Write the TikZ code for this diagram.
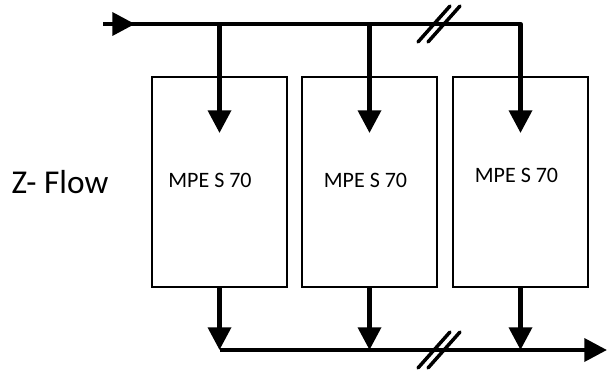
\documentclass[tikz,border=0pt]{standalone}
\usepackage{fontspec}
\setmainfont{Carlito}
\usetikzlibrary{arrows.meta}

\begin{document}
\begin{tikzpicture}[x=0.75pt,y=-0.75pt,
    bus/.style={line width=3.4pt, line join=round},
    feed/.style={bus, -{Triangle[length=17pt,width=17pt]}},
    unit/.style={draw, line width=1.5pt, minimum width=101.25pt, minimum height=157.5pt},
    unitname/.style={font=\fontsize{16.5}{20}\selectfont},
    slash/.style={line width=2.6pt, line cap=round}]
\useasboundingbox (0,0) rectangle (607,374);

% units
\node[unit] (u1) at (219.5,182) {};
\node[unit] (u2) at (369.5,182) {};
\node[unit] (u3) at (520.5,182) {};
\node[unitname] (t1) at (210,180) {MPE S 70};
\node[unitname] (t2) at (365.5,180) {MPE S 70};
\node[unitname] (t3) at (516.5,175.5) {MPE S 70};
\node[font=\fontsize{25}{30}\selectfont] (zflow) at (60,182) {Z- Flow};

\coordinate (in) at (103,24);
\coordinate (inarrow) at (135,24);
\coordinate (tip) at (0,133);
\coordinate (out) at (607,350);
\coordinate (brk1) at (439,24);
\coordinate (brk2) at (439,350);

% supply line
\draw[feed] (in) -- (u3.center |- in) -- (u3.center |- tip);
\draw[feed] (in) -- (inarrow);
\foreach \i in {1,2}
    \draw[feed] (u\i.center |- in) -- (u\i.center |- tip);

% return line
\draw[feed] (u1.center |- out) -- (out);
\foreach \i in {1,2,3}
    \draw[feed] (u\i.south) -- (u\i.center |- out);

% breaks
\foreach \b in {brk1,brk2}
    \foreach \dx in {-5,5}
        \draw[slash] ([shift={(\dx-16,18)}]\b) -- ([shift={(\dx+16,-18)}]\b);
\end{tikzpicture}
\end{document}
